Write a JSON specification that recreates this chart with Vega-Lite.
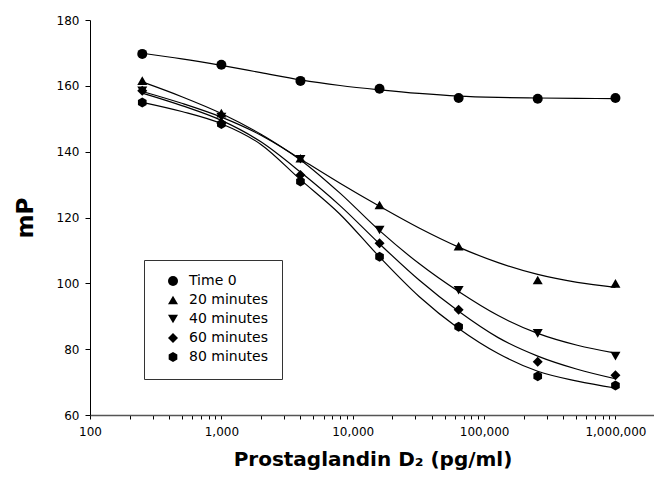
{
  "$schema": "https://vega.github.io/schema/vega-lite/v6.json",
  "autosize": {"type": "none"},
  "padding": {"left": 90, "top": 20, "right": 0, "bottom": 68},
  "width": 565,
  "height": 395,
  "config": {
    "view": {"stroke": null},
    "axis": {"grid": false, "domainColor": "black", "tickColor": "black", "labelColor": "black", "labelFont": "DejaVu Sans", "labelFontSize": 12, "titleFont": "DejaVu Sans", "titleColor": "black", "titleFontWeight": "bold"},
    "legend": {"symbolFillColor": "black", "symbolStrokeColor": "black"}
  },
  "datasets": {
    "points": [
      {"conc": 250, "mP": 169.7, "series": "Time 0"},
      {"conc": 1000, "mP": 166.4, "series": "Time 0"},
      {"conc": 4000, "mP": 161.5, "series": "Time 0"},
      {"conc": 16000, "mP": 159.1, "series": "Time 0"},
      {"conc": 64000, "mP": 156.3, "series": "Time 0"},
      {"conc": 256000, "mP": 156.1, "series": "Time 0"},
      {"conc": 1000000, "mP": 156.3, "series": "Time 0"},
      {"conc": 250, "mP": 161.6, "series": "20 minutes"},
      {"conc": 1000, "mP": 151.7, "series": "20 minutes"},
      {"conc": 4000, "mP": 138.0, "series": "20 minutes"},
      {"conc": 16000, "mP": 123.8, "series": "20 minutes"},
      {"conc": 64000, "mP": 111.3, "series": "20 minutes"},
      {"conc": 256000, "mP": 101.0, "series": "20 minutes"},
      {"conc": 1000000, "mP": 100.0, "series": "20 minutes"},
      {"conc": 250, "mP": 158.5, "series": "40 minutes"},
      {"conc": 1000, "mP": 150.5, "series": "40 minutes"},
      {"conc": 4000, "mP": 137.7, "series": "40 minutes"},
      {"conc": 16000, "mP": 116.2, "series": "40 minutes"},
      {"conc": 64000, "mP": 97.9, "series": "40 minutes"},
      {"conc": 256000, "mP": 84.8, "series": "40 minutes"},
      {"conc": 1000000, "mP": 77.9, "series": "40 minutes"},
      {"conc": 250, "mP": 158.5, "series": "60 minutes"},
      {"conc": 1000, "mP": 148.6, "series": "60 minutes"},
      {"conc": 4000, "mP": 132.9, "series": "60 minutes"},
      {"conc": 16000, "mP": 112.2, "series": "60 minutes"},
      {"conc": 64000, "mP": 92.0, "series": "60 minutes"},
      {"conc": 256000, "mP": 76.2, "series": "60 minutes"},
      {"conc": 1000000, "mP": 72.1, "series": "60 minutes"},
      {"conc": 250, "mP": 154.9, "series": "80 minutes"},
      {"conc": 1000, "mP": 148.4, "series": "80 minutes"},
      {"conc": 4000, "mP": 130.9, "series": "80 minutes"},
      {"conc": 16000, "mP": 108.1, "series": "80 minutes"},
      {"conc": 64000, "mP": 86.8, "series": "80 minutes"},
      {"conc": 256000, "mP": 71.8, "series": "80 minutes"},
      {"conc": 1000000, "mP": 69.0, "series": "80 minutes"}
    ],
    "curves": [
      {"conc": 250, "mP": 169.9, "series": "Time 0"},
      {"conc": 500, "mP": 168.2, "series": "Time 0"},
      {"conc": 1000, "mP": 166.2, "series": "Time 0"},
      {"conc": 2000, "mP": 164.0, "series": "Time 0"},
      {"conc": 4000, "mP": 161.8, "series": "Time 0"},
      {"conc": 8000, "mP": 160.1, "series": "Time 0"},
      {"conc": 16000, "mP": 158.8, "series": "Time 0"},
      {"conc": 32000, "mP": 157.7, "series": "Time 0"},
      {"conc": 64000, "mP": 156.9, "series": "Time 0"},
      {"conc": 128000, "mP": 156.5, "series": "Time 0"},
      {"conc": 256000, "mP": 156.3, "series": "Time 0"},
      {"conc": 512000, "mP": 156.2, "series": "Time 0"},
      {"conc": 1000000, "mP": 156.1, "series": "Time 0"},
      {"conc": 250, "mP": 161.2, "series": "20 minutes"},
      {"conc": 500, "mP": 156.7, "series": "20 minutes"},
      {"conc": 1000, "mP": 151.6, "series": "20 minutes"},
      {"conc": 2000, "mP": 145.3, "series": "20 minutes"},
      {"conc": 4000, "mP": 137.8, "series": "20 minutes"},
      {"conc": 8000, "mP": 130.4, "series": "20 minutes"},
      {"conc": 16000, "mP": 123.4, "series": "20 minutes"},
      {"conc": 32000, "mP": 116.8, "series": "20 minutes"},
      {"conc": 64000, "mP": 111.0, "series": "20 minutes"},
      {"conc": 128000, "mP": 106.3, "series": "20 minutes"},
      {"conc": 256000, "mP": 102.7, "series": "20 minutes"},
      {"conc": 512000, "mP": 100.3, "series": "20 minutes"},
      {"conc": 1000000, "mP": 98.8, "series": "20 minutes"},
      {"conc": 250, "mP": 158.3, "series": "40 minutes"},
      {"conc": 500, "mP": 154.7, "series": "40 minutes"},
      {"conc": 1000, "mP": 150.5, "series": "40 minutes"},
      {"conc": 2000, "mP": 145.0, "series": "40 minutes"},
      {"conc": 4000, "mP": 137.5, "series": "40 minutes"},
      {"conc": 8000, "mP": 127.4, "series": "40 minutes"},
      {"conc": 16000, "mP": 116.0, "series": "40 minutes"},
      {"conc": 32000, "mP": 106.0, "series": "40 minutes"},
      {"conc": 64000, "mP": 97.5, "series": "40 minutes"},
      {"conc": 128000, "mP": 90.2, "series": "40 minutes"},
      {"conc": 256000, "mP": 84.8, "series": "40 minutes"},
      {"conc": 512000, "mP": 81.2, "series": "40 minutes"},
      {"conc": 1000000, "mP": 78.8, "series": "40 minutes"},
      {"conc": 250, "mP": 157.8, "series": "60 minutes"},
      {"conc": 500, "mP": 154.0, "series": "60 minutes"},
      {"conc": 1000, "mP": 149.5, "series": "60 minutes"},
      {"conc": 2000, "mP": 143.0, "series": "60 minutes"},
      {"conc": 4000, "mP": 133.8, "series": "60 minutes"},
      {"conc": 8000, "mP": 123.6, "series": "60 minutes"},
      {"conc": 16000, "mP": 112.0, "series": "60 minutes"},
      {"conc": 32000, "mP": 101.0, "series": "60 minutes"},
      {"conc": 64000, "mP": 91.5, "series": "60 minutes"},
      {"conc": 128000, "mP": 83.5, "series": "60 minutes"},
      {"conc": 256000, "mP": 77.9, "series": "60 minutes"},
      {"conc": 512000, "mP": 73.9, "series": "60 minutes"},
      {"conc": 1000000, "mP": 71.0, "series": "60 minutes"},
      {"conc": 250, "mP": 155.0, "series": "80 minutes"},
      {"conc": 500, "mP": 152.2, "series": "80 minutes"},
      {"conc": 1000, "mP": 148.5, "series": "80 minutes"},
      {"conc": 2000, "mP": 142.2, "series": "80 minutes"},
      {"conc": 4000, "mP": 131.5, "series": "80 minutes"},
      {"conc": 8000, "mP": 121.0, "series": "80 minutes"},
      {"conc": 16000, "mP": 108.0, "series": "80 minutes"},
      {"conc": 32000, "mP": 96.0, "series": "80 minutes"},
      {"conc": 64000, "mP": 86.3, "series": "80 minutes"},
      {"conc": 128000, "mP": 78.7, "series": "80 minutes"},
      {"conc": 256000, "mP": 73.3, "series": "80 minutes"},
      {"conc": 512000, "mP": 70.3, "series": "80 minutes"},
      {"conc": 1000000, "mP": 68.2, "series": "80 minutes"}
    ]
  },
  "layer": [
    {
      "data": {"name": "curves"},
      "mark": {"type": "line", "color": "black", "strokeWidth": 1.2, "interpolate": "monotone"},
      "encoding": {
        "x": {"field": "conc", "type": "quantitative", "scale": {"type": "log", "domain": [100, 2000000], "nice": false},
          "axis": {"title": "Prostaglandin D₂ (pg/ml)", "titleFontSize": 20, "titlePadding": 12,
            "values": [100,200,300,400,500,600,700,800,900,1000,2000,3000,4000,5000,6000,7000,8000,9000,10000,20000,30000,40000,50000,60000,70000,80000,90000,100000,200000,300000,400000,500000,600000,700000,800000,900000,1000000,2000000],
            "labelExpr": "indexof([100,1000,10000,100000,1000000], datum.value) >= 0 ? format(datum.value, ',') : ''",
            "tickSize": 4, "labelPadding": 7, "domainColor": "#555", "domainWidth": 1.5, "labelFlush": false, "labelOverlap": false}},
        "y": {"field": "mP", "type": "quantitative", "scale": {"domain": [60, 180], "nice": false, "zero": false},
          "axis": {"title": "mP", "titleFontSize": 23, "titlePadding": 19,
            "values": [60,70,80,90,100,110,120,130,140,150,160,170,180],
            "labelExpr": "datum.value % 20 === 0 ? datum.label : ''",
            "tickSize": 5, "labelPadding": 6, "labelFlush": false, "labelOverlap": false}},
        "detail": {"field": "series", "type": "nominal"}
      }
    },
    {
      "data": {"name": "points"},
      "mark": {"type": "point", "filled": true, "color": "black", "opacity": 1, "size": 100},
      "encoding": {
        "x": {"field": "conc", "type": "quantitative"},
        "y": {"field": "mP", "type": "quantitative"},
        "shape": {"field": "series", "type": "nominal",
          "scale": {"domain": ["Time 0", "20 minutes", "40 minutes", "60 minutes", "80 minutes"],
            "range": ["circle", "triangle-up", "triangle-down", "diamond", "M0,-1L0.866,-0.5L0.866,0.5L0,1L-0.866,0.5L-0.866,-0.5Z"]},
          "legend": {"title": null, "orient": "none", "legendX": 54, "legendY": 240, "padding": 14,
            "strokeColor": "#333", "fillColor": "white", "labelFont": "DejaVu Sans", "labelFontSize": 14, "labelColor": "black",
            "symbolOffset": 8, "labelOffset": 9, "rowPadding": 3, "symbolSize": 100}}
      }
    }
  ]
}
